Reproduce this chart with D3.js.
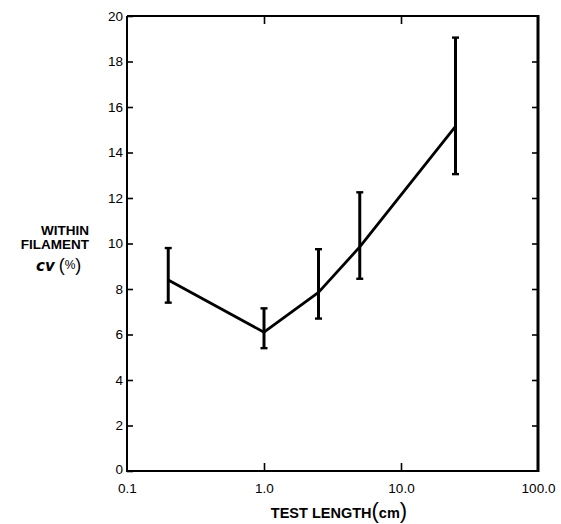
<!DOCTYPE html>
<html>
<head>
<meta charset="utf-8">
<script src="https://cdn.jsdelivr.net/npm/d3@7"></script>
<style>
  html, body { margin: 0; padding: 0; background: #fff; }
  svg { display: block; }
</style>
</head>
<body>
<svg id="chart" width="561" height="524"></svg>
<script>
// ---- data ----
const testLength = [0.2, 1.0, 2.5, 5.0, 25.0];        // cm
const cvMean     = [8.4, 6.1, 7.85, 9.85, 15.15];     // %
const cvLow      = [7.4, 5.4, 6.7, 8.45, 13.05];
const cvHigh     = [9.8, 7.15, 9.75, 12.25, 19.05];
const yTickValues = [0, 2, 4, 6, 8, 10, 12, 14, 16, 18, 20];
const xTickValues = [0.1, 1, 10, 100];
const xTickLabels = ["0.1", "1.0", "10.0", "100.0"];

const svg = d3.select("#chart");
const L = 127, R = 538, T = 16, B = 471;

const x = d3.scaleLog().domain([0.1, 100]).range([L, R]);
const y = d3.scaleLinear().domain([0, 20]).range([B, T]);

const font = "'Liberation Sans', Arial, Helvetica, sans-serif";

// left axis (ticks inward, labels)
const gL = svg.append("g").attr("transform", `translate(${L},0)`)
  .call(d3.axisLeft(y).tickValues(yTickValues).tickSize(-6).tickPadding(4).tickFormat(d3.format("d")));
// right axis
const gR = svg.append("g").attr("transform", `translate(${R},0)`)
  .call(d3.axisRight(y).tickValues(yTickValues.slice(1, -1)).tickSize(-6).tickFormat(""));
// bottom axis
const gB = svg.append("g").attr("transform", `translate(0,${B})`)
  .call(d3.axisBottom(x).tickValues(xTickValues).tickSize(-8).tickPadding(12)
    .tickFormat((d, i) => xTickLabels[i]));
// top axis
const gT = svg.append("g").attr("transform", `translate(0,${T})`)
  .call(d3.axisTop(x).tickValues([1, 10]).tickSize(-8).tickFormat(""));

[gL, gR, gB, gT].forEach(g => {
  g.select(".domain").remove();
  g.selectAll(".tick line").attr("stroke", "#000").attr("stroke-width", 1.6);
  g.selectAll(".tick text").attr("fill", "#000")
    .style("font-family", font).style("font-size", "13.5px");
});
gB.selectAll(".tick").filter(d => d === 0.1 || d === 100).select("line").remove();
gL.selectAll(".tick").filter(d => d === 0).select("text").attr("dy", "0.2em");

// frame
svg.append("path")
  .attr("d", `M${L},${T}H${R}`).attr("stroke", "#000").attr("stroke-width", 2).attr("fill", "none");
svg.append("path")
  .attr("d", `M${L},${T}V${B}H${R}`).attr("stroke", "#000").attr("stroke-width", 2).attr("fill", "none");
svg.append("path")
  .attr("d", `M${R},${T-1}V${B+1}`).attr("stroke", "#000").attr("stroke-width", 3).attr("fill", "none");

// data line
const pts = testLength.map((d, i) => [d, cvMean[i]]);
svg.append("path")
  .datum(pts)
  .attr("fill", "none").attr("stroke", "#000").attr("stroke-width", 2.8)
  .attr("stroke-linejoin", "round")
  .attr("d", d3.line().x(d => x(d[0])).y(d => y(d[1])));

// error bars
const eb = svg.append("g").attr("stroke", "#000").attr("fill", "none");
testLength.forEach((d, i) => {
  const cx = x(d);
  eb.append("line").attr("x1", cx).attr("x2", cx)
    .attr("y1", y(cvLow[i])).attr("y2", y(cvHigh[i])).attr("stroke-width", 3);
  [cvLow[i], cvHigh[i]].forEach(v => {
    eb.append("line").attr("x1", cx - 3.5).attr("x2", cx + 3.5)
      .attr("y1", y(v)).attr("y2", y(v)).attr("stroke-width", 2.4);
  });
});

// y axis title
const yt = svg.append("g").style("font-family", font).attr("fill", "#000");
yt.append("text").attr("x", 89).attr("y", 235).attr("text-anchor", "end")
  .style("font-weight", "bold").style("font-size", "13.5px").text("WITHIN");
yt.append("text").attr("x", 89).attr("y", 249).attr("text-anchor", "end")
  .style("font-weight", "bold").style("font-size", "13.5px").text("FILAMENT");
const cv = yt.append("text").attr("x", 36).attr("y", 271);
cv.append("tspan").style("font-weight", "bold").style("font-style", "italic")
  .style("font-size", "15px").style("font-family", "'DejaVu Sans', sans-serif").text("cv");
cv.append("tspan").attr("dx", 4).style("font-size", "18px").text("(");
cv.append("tspan").attr("dy", -2).style("font-size", "12px").text("%");
cv.append("tspan").attr("dy", 2).style("font-size", "18px").text(")");

// x axis title
const xt = svg.append("text").attr("x", 339).attr("y", 518).attr("text-anchor", "middle")
  .style("font-family", font).attr("fill", "#000");
xt.append("tspan").style("font-weight", "bold").style("font-size", "14.5px").text("TEST LENGTH");
xt.append("tspan").style("font-size", "22px").text("(");
xt.append("tspan").style("font-weight", "bold").style("font-size", "14.5px").text("cm");
xt.append("tspan").style("font-size", "22px").text(")");
</script>
</body>
</html>
